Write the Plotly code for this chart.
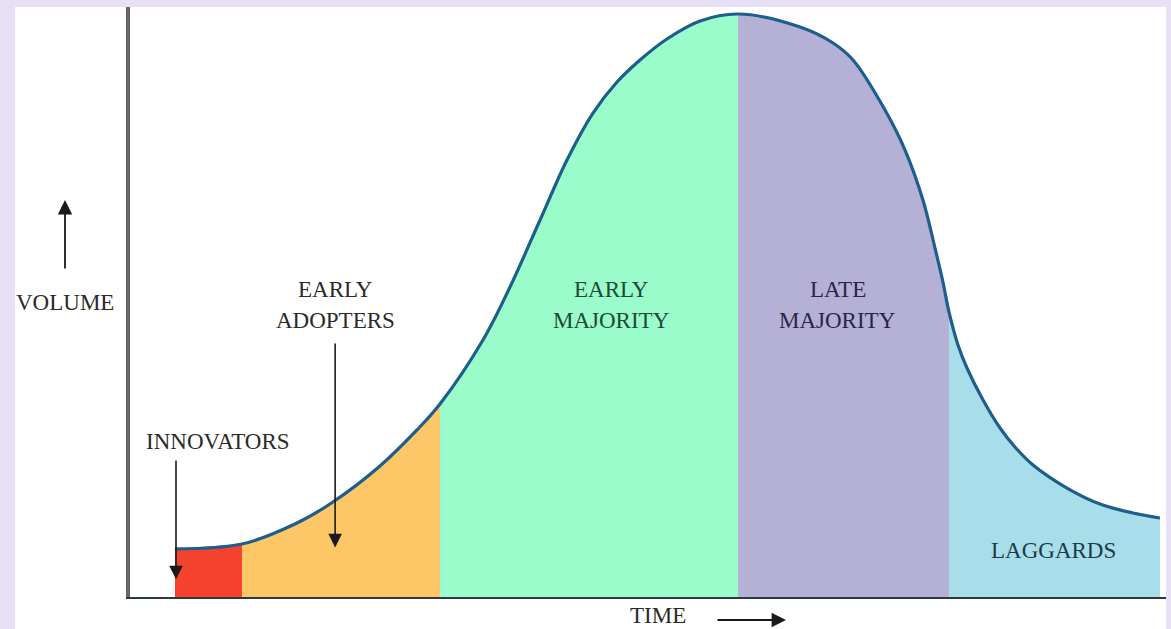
import plotly.graph_objects as go

# Curve: time (0-100) vs volume (0-100)
time_pts = [4.34, 10.81, 16.12, 19.59, 24.13, 27.70, 29.92, 34.07, 36.68, 39.58, 42.18,
            44.69, 47.01, 49.23, 51.83, 55.02, 58.69, 64.67, 67.86, 69.79, 72.88, 74.81,
            76.54, 77.70, 78.47, 79.05, 79.92, 80.79, 82.34, 83.98, 85.42, 87.16, 90.44,
            93.63, 96.81, 99.42]
volume_pts = [8.14, 8.98, 12.54, 16.10, 22.20, 28.31, 32.71, 43.56, 52.54, 63.90, 74.07,
              82.03, 87.29, 91.02, 94.58, 97.63, 98.81, 96.61, 93.90, 91.02, 82.54, 75.76,
              67.29, 59.15, 53.39, 48.31, 42.71, 38.81, 33.39, 28.64, 25.42, 22.37, 18.47,
              15.76, 14.24, 13.39]

# Segment boundaries (time values)
segment_names = ["INNOVATORS", "EARLY ADOPTERS", "EARLY MAJORITY", "LATE MAJORITY", "LAGGARDS"]
segment_bounds = [4.34, 10.81, 29.92, 58.69, 79.05, 99.42]
segment_colors = ["#F4422E", "#FDC768", "#9AFBCB", "#B5B0D5", "#A8DEEA"]

fig = go.Figure()

for i, name in enumerate(segment_names):
    lo, hi = segment_bounds[i], segment_bounds[i + 1]
    xs = [t for t in time_pts if lo <= t <= hi]
    ys = [v for t, v in zip(time_pts, volume_pts) if lo <= t <= hi]
    fig.add_trace(go.Scatter(
        x=xs, y=ys, mode="lines", fill="tozeroy", fillcolor=segment_colors[i],
        line=dict(width=0, shape="spline", smoothing=1.0, color=segment_colors[i]),
        hoverinfo="skip", showlegend=False, name=name))

fig.add_trace(go.Scatter(
    x=time_pts, y=volume_pts, mode="lines",
    line=dict(color="#1E5E8C", width=3.2, shape="spline", smoothing=1.0),
    hoverinfo="skip", showlegend=False))

W, H = 1171, 629
L, R, T, B = 130, 5, 7, 32
pw, ph = W - L - R, H - T - B

def px_to_paper(px, py):
    return (px - L) / pw, (H - B - py) / ph

# White panel behind the chart (lavender frame around it)
x0, y0 = px_to_paper(15, 629)
x1, y1 = px_to_paper(1166, 7)
fig.add_shape(type="rect", xref="paper", yref="paper", x0=x0, y0=y0, x1=x1, y1=y1,
              fillcolor="white", line=dict(width=0), layer="below")

FAM = "Liberation Serif, Times New Roman, serif"
FS = 23

def label(text, x, y, color="#2A2A2A"):
    fig.add_annotation(x=x, y=y, xref="x", yref="y", text=text, showarrow=False,
                       xanchor="center", yanchor="middle",
                       font=dict(family=FAM, size=FS, color=color))

label("EARLY", 19.8, 52.2)
label("ADOPTERS", 19.8, 46.9)
label("EARLY", 46.5, 52.2, "#1C4A36")
label("MAJORITY", 46.5, 46.9, "#1C4A36")
label("LATE", 68.3, 52.2, "#2A2545")
label("MAJORITY", 68.3, 46.9, "#2A2545")
label("LAGGARDS", 89.1, 7.8, "#1E3A48")
label("INNOVATORS", 8.5, 26.3)

# Arrows inside plot
fig.add_annotation(x=4.44, y=3.0, ax=4.44, ay=23.4, xref="x", yref="y", axref="x", ayref="y",
                   text="", showarrow=True, arrowhead=2, arrowsize=1.7, arrowwidth=1.6,
                   arrowcolor="#1a1a1a")
fig.add_annotation(x=19.8, y=8.4, ax=19.8, ay=43.2, xref="x", yref="y", axref="x", ayref="y",
                   text="", showarrow=True, arrowhead=2, arrowsize=1.7, arrowwidth=1.6,
                   arrowcolor="#1a1a1a")

# Axis titles with arrows (outside plot)
vx, vy = px_to_paper(65, 302)
fig.add_annotation(x=vx, y=vy, xref="paper", yref="paper", text="VOLUME", showarrow=False,
                   xanchor="center", yanchor="middle",
                   font=dict(family=FAM, size=FS, color="#2A2A2A"))
ax0, ay0 = px_to_paper(65, 200)
fig.add_annotation(x=ax0, y=ay0, xref="paper", yref="paper", ax=0, ay=70, text="",
                   showarrow=True, arrowhead=2, arrowsize=1.6, arrowwidth=1.8, arrowcolor="#1a1a1a")
tx, ty = px_to_paper(658, 629)
fig.add_annotation(x=tx, y=ty, xref="paper", yref="paper", text="TIME", showarrow=False,
                   xanchor="center", yanchor="bottom", borderpad=0,
                   font=dict(family=FAM, size=FS, color="#2A2A2A"))
bx, by = px_to_paper(786, 620)
fig.add_annotation(x=bx, y=by, xref="paper", yref="paper", ax=-70, ay=0, text="",
                   showarrow=True, arrowhead=2, arrowsize=1.6, arrowwidth=1.8, arrowcolor="#1a1a1a")

fig.update_xaxes(range=[0, 100], showgrid=False, zeroline=False, showticklabels=False,
                 ticks="", showline=True, linecolor="#2B3A40", linewidth=2, fixedrange=True)
fig.update_yaxes(range=[0, 100], showgrid=False, zeroline=False, showticklabels=False,
                 ticks="", showline=True, linecolor="#666666", linewidth=4, fixedrange=True)

fig.update_layout(width=W, height=H, autosize=False,
                  margin=dict(l=L, r=R, t=T, b=B, pad=0),
                  paper_bgcolor="#E8E0F4", plot_bgcolor="white",
                  showlegend=False)

fig.write_html(
    "out.html",
    config={"displayModeBar": False},
    post_script=("document.body.style.margin='0px';document.body.style.padding='0px';"
                 "document.body.style.overflow='hidden';"
                 "document.body.style.background='#E8E0F4';"),
)
